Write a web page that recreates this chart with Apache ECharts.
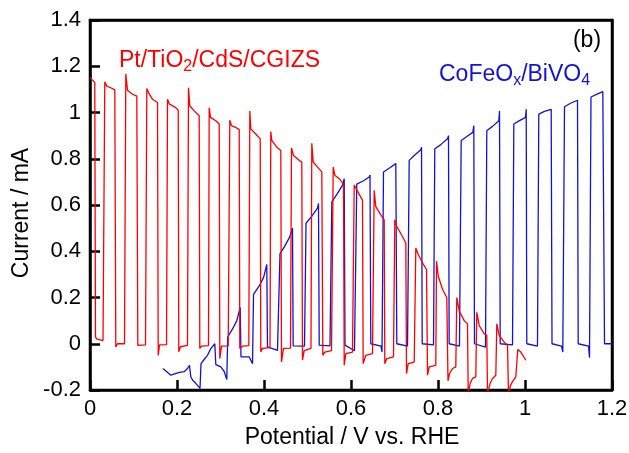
<!DOCTYPE html>
<html>
<head>
<meta charset="utf-8">
<script src="https://cdn.jsdelivr.net/npm/echarts@6/dist/echarts.min.js"></script>
<style>
  html, body { margin: 0; padding: 0; background: #fff; }
  #chart { width: 629px; height: 453px; }
</style>
</head>
<body>
<div id="chart"></div>
<script>
// Chopped-light sweep: Pt/TiO2/CdS/CGIZS photocathode (current shown as magnitude)
const redPotential = [
  0.0000, 0.0057, 0.0110, 0.0126, 0.0149, 0.0299,
  0.0340, 0.0386, 0.0478, 0.0570, 0.0593, 0.0632, 0.0793,
  0.0823, 0.0862, 0.0977, 0.1076, 0.1099, 0.1276,
  0.1306, 0.1345, 0.1437, 0.1552, 0.1568, 0.1598, 0.1759,
  0.1782, 0.1828, 0.1972, 0.2028, 0.2041, 0.2080, 0.2241,
  0.2264, 0.2294, 0.2395, 0.2510, 0.2524, 0.2563, 0.2724,
  0.2740, 0.2770, 0.2892, 0.2970, 0.2984, 0.3023, 0.3177,
  0.3214, 0.3253, 0.3345, 0.3430, 0.3444, 0.3506, 0.3651,
  0.3674, 0.3697, 0.3811, 0.3913, 0.3926, 0.3966, 0.4138,
  0.4156, 0.4179, 0.4294, 0.4386, 0.4402, 0.4448, 0.4609,
  0.4632, 0.4678, 0.4809, 0.4869, 0.4885, 0.4924, 0.5080,
  0.5099, 0.5131, 0.5230, 0.5329, 0.5352, 0.5398, 0.5552,
  0.5591, 0.5628, 0.5729, 0.5828, 0.5844, 0.5880, 0.6034,
  0.6074, 0.6149, 0.6264, 0.6280, 0.6340, 0.6494,
  0.6533, 0.6570, 0.6685, 0.6763, 0.6777, 0.6823, 0.6977,
  0.7007, 0.7053, 0.7184, 0.7260, 0.7276, 0.7315, 0.7453,
  0.7490, 0.7545, 0.7644, 0.7736, 0.7759, 0.7798, 0.7949,
  0.7966, 0.8005, 0.8103, 0.8202, 0.8230, 0.8264, 0.8333, 0.8409,
  0.8432, 0.8487, 0.8602, 0.8678, 0.8694, 0.8740, 0.8793, 0.8869,
  0.8892, 0.8947, 0.9062, 0.9122, 0.9138, 0.9200, 0.9253, 0.9329,
  0.9352, 0.9407, 0.9522, 0.9598, 0.9621, 0.9667, 0.9713, 0.9789, 0.9811,
  0.9834, 0.9903, 0.9966, 1.0018
];
const redCurrent = [
  1.150, 1.140, 1.130, 0.030, 0.021, 0.014,
  1.133, 1.114, 1.107, 1.098, -0.014, 0.000, 0.000,
  1.167, 1.096, 1.079, 1.071, -0.007, -0.005,
  1.104, 1.086, 1.057, 1.043, -0.050, -0.005, -0.004,
  1.057, 1.036, 1.021, 1.010, -0.035, -0.013, -0.007,
  1.107, 1.029, 1.007, 0.986, -0.020, -0.010, -0.008,
  1.021, 0.979, 0.964, 0.950, -0.064, -0.010, -0.009,
  0.967, 0.943, 0.936, 0.926, -0.020, -0.010, -0.008,
  1.007, 0.929, 0.907, 0.886, -0.035, -0.020, -0.017,
  0.918, 0.879, 0.850, 0.836, -0.078, -0.020, -0.019,
  0.847, 0.814, 0.793, 0.786, -0.070, -0.030, -0.020,
  0.867, 0.786, 0.764, 0.743, -0.050, -0.036, -0.030,
  0.764, 0.729, 0.714, 0.690, -0.093, -0.043, -0.036,
  0.686, 0.660, 0.621, -0.086, -0.050, -0.043,
  0.664, 0.593, 0.557, 0.536, -0.086, -0.064, -0.057,
  0.536, 0.507, 0.464, 0.436, -0.129, -0.086, -0.079,
  0.414, 0.386, 0.350, 0.321, -0.136, -0.100, -0.093,
  0.357, 0.293, 0.236, 0.200, -0.160, -0.129, -0.107, -0.100,
  0.200, 0.143, 0.100, 0.086, -0.215, -0.171, -0.150, -0.143,
  0.136, 0.079, 0.043, 0.036, -0.215, -0.171, -0.150, -0.136,
  0.086, 0.036, 0.007, -0.007, -0.215, -0.180, -0.164, -0.143, -0.135,
  -0.025, -0.036, -0.055, -0.071
];

// Chopped-light sweep: CoFeOx/BiVO4 photoanode
const bluePotential = [
  0.1674, 0.1759, 0.1857, 0.1943,
  0.1966, 0.2057, 0.2166, 0.2241, 0.2287,
  0.2317, 0.2356, 0.2432, 0.2529,
  0.2552, 0.2632, 0.2701, 0.2777, 0.2869,
  0.2892, 0.3007, 0.3085, 0.3145,
  0.3166, 0.3276, 0.3375, 0.3453,
  0.3471, 0.3660, 0.3736,
  0.3759, 0.3890, 0.3989, 0.4064,
  0.4080, 0.4310,
  0.4368, 0.4471, 0.4586, 0.4655,
  0.4671, 0.4931,
  0.4966, 0.5092, 0.5230, 0.5253,
  0.5269, 0.5517,
  0.5559, 0.5690, 0.5805, 0.5844,
  0.5862, 0.6080,
  0.6133, 0.6287, 0.6418, 0.6437,
  0.6455, 0.6690, 0.6713,
  0.6747, 0.6885, 0.7030,
  0.7053, 0.7299,
  0.7338, 0.7460, 0.7605, 0.7621,
  0.7637, 0.7897,
  0.7926, 0.8057, 0.8218, 0.8241,
  0.8257, 0.8494,
  0.8533, 0.8655, 0.8800, 0.8823,
  0.8839, 0.9092,
  0.9122, 0.9253, 0.9398, 0.9414,
  0.9430, 0.9713,
  0.9743, 0.9874, 1.0011, 1.0028,
  1.0041, 1.0287,
  1.0317, 1.0448, 1.0602,
  1.0621, 1.0839, 1.0869,
  1.0908, 1.1046, 1.1207,
  1.1223, 1.1460, 1.1483,
  1.1517, 1.1644, 1.1789,
  1.1828, 1.2000
];
const blueCurrent = [
  -0.107, -0.120, -0.136, -0.130,
  -0.125, -0.124, -0.121, -0.107, -0.093,
  -0.143, -0.157, -0.171, -0.193,
  -0.086, -0.066, -0.050, -0.021, 0.000,
  -0.090, -0.100, -0.120, -0.155,
  0.029, 0.064, 0.100, 0.157,
  -0.057, -0.057, -0.086,
  0.214, 0.250, 0.286, 0.343,
  -0.014, -0.029,
  0.390, 0.420, 0.460, 0.500,
  -0.009, -0.010,
  0.521, 0.550, 0.586, 0.607,
  -0.006, -0.009,
  0.614, 0.650, 0.686, 0.714,
  -0.006, -0.030,
  0.690, 0.705, 0.721, 0.730,
  0.000, -0.010, -0.036,
  0.743, 0.760, 0.779,
  0.000, -0.010,
  0.793, 0.815, 0.839, 0.850,
  0.000, -0.005,
  0.843, 0.860, 0.886, 0.900,
  0.000, -0.010,
  0.879, 0.895, 0.914, 0.943,
  0.000, -0.015,
  0.921, 0.940, 0.964, 1.007,
  0.000, -0.005,
  0.950, 0.965, 0.979, 1.014,
  0.000, -0.010,
  0.993, 1.005, 1.014,
  0.000, -0.010, -0.036,
  1.025, 1.040, 1.053,
  0.000, -0.010, -0.060,
  1.067, 1.078, 1.090,
  0.000, 0.000
];

const xTickLabels = ['0', '0.2', '0.4', '0.6', '0.8', '1', '1.2'];
const yTickLabels = ['-0.2', '0', '0.2', '0.4', '0.6', '0.8', '1', '1.2', '1.4'];

const FONT = '"Liberation Sans", Arial, Helvetica, sans-serif';
const RED = '#ff0000';
const BLUE = '#1212d6';

function pairs(xs, ys) {
  return xs.map((x, i) => [x, ys[i]]);
}

const chart = echarts.init(document.getElementById('chart'), null, { renderer: 'canvas' });

const axisLineStyle = { color: '#000', width: 2.5 };

chart.setOption({
  animation: false,
  backgroundColor: '#fff',
  grid: {
    left: 90, right: 17, top: 20, bottom: 63,
    containLabel: false,
    outerBoundsMode: 'none',
    show: true,
    borderColor: '#000',
    borderWidth: 2.5
  },
  xAxis: [
    {
      type: 'value', min: 0, max: 1.2, interval: 0.2, position: 'bottom',
      axisLine: { show: true, onZero: false, lineStyle: axisLineStyle },
      axisTick: { show: true, inside: true, length: 10, lineStyle: { color: '#000', width: 2.5 } },
      axisLabel: {
        show: true, margin: 8, fontSize: 22, fontFamily: FONT, color: '#000',
        formatter: (v) => xTickLabels[Math.round(v / 0.2)]
      },
      splitLine: { show: false }
    },
    {
      type: 'value', min: 0, max: 1.2, interval: 0.2, position: 'top',
      axisLine: { show: true, onZero: false, lineStyle: axisLineStyle },
      axisTick: { show: false }, axisLabel: { show: false }, splitLine: { show: false }
    }
  ],
  yAxis: [
    {
      type: 'value', min: -0.2, max: 1.4, interval: 0.2, position: 'left',
      axisLine: { show: true, onZero: false, lineStyle: axisLineStyle },
      axisTick: { show: true, inside: true, length: 10, lineStyle: { color: '#000', width: 2.5 } },
      axisLabel: {
        show: true, margin: 9, fontSize: 22, fontFamily: FONT, color: '#000',
        formatter: (v) => yTickLabels[Math.round((v + 0.2) / 0.2)]
      },
      splitLine: { show: false }
    },
    {
      type: 'value', min: -0.2, max: 1.4, interval: 0.2, position: 'right',
      axisLine: { show: true, onZero: false, lineStyle: axisLineStyle },
      axisTick: { show: false }, axisLabel: { show: false }, splitLine: { show: false }
    }
  ],
  series: [
    {
      name: 'Pt/TiO2/CdS/CGIZS', type: 'line', xAxisIndex: 0, yAxisIndex: 0,
      data: pairs(redPotential, redCurrent),
      showSymbol: false, symbol: 'none', clip: true,
      lineStyle: { color: RED, width: 1.3 }, z: 3
    },
    {
      name: 'CoFeOx/BiVO4', type: 'line', xAxisIndex: 0, yAxisIndex: 0,
      data: pairs(bluePotential, blueCurrent),
      showSymbol: false, symbol: 'none', clip: true,
      lineStyle: { color: BLUE, width: 1.3 }, z: 2
    }
  ],
  graphic: [
    {
      type: 'text', x: 22, y: 213, rotation: Math.PI / 2,
      style: { text: 'Current / mA', fontSize: 23, fontFamily: FONT, fill: '#000', align: 'center', verticalAlign: 'middle' }
    },
    {
      type: 'text', x: 352, y: 438,
      style: { text: 'Potential / V vs. RHE', fontSize: 23, fontFamily: FONT, fill: '#000', align: 'center', verticalAlign: 'middle' }
    },
    {
      type: 'text', x: 587, y: 41,
      style: { text: '(b)', fontSize: 23, fontFamily: FONT, fill: '#000', align: 'center', verticalAlign: 'middle' }
    },
    {
      type: 'text', x: 119, y: 61,
      style: {
        text: '{m|Pt/TiO}{s|2}{m|/CdS/CGIZS}',
        align: 'left', verticalAlign: 'middle',
        rich: {
          m: { fontSize: 23, fontFamily: FONT, fill: RED },
          s: { fontSize: 16, fontFamily: FONT, fill: RED, padding: [12, 0, 0, 0] }
        }
      }
    },
    {
      type: 'text', x: 439, y: 75,
      style: {
        text: '{m|CoFeO}{s|x}{m|/BiVO}{s|4}',
        align: 'left', verticalAlign: 'middle',
        rich: {
          m: { fontSize: 23, fontFamily: FONT, fill: BLUE },
          s: { fontSize: 16, fontFamily: FONT, fill: BLUE, padding: [12, 0, 0, 0] }
        }
      }
    }
  ]
});
</script>
</body>
</html>
